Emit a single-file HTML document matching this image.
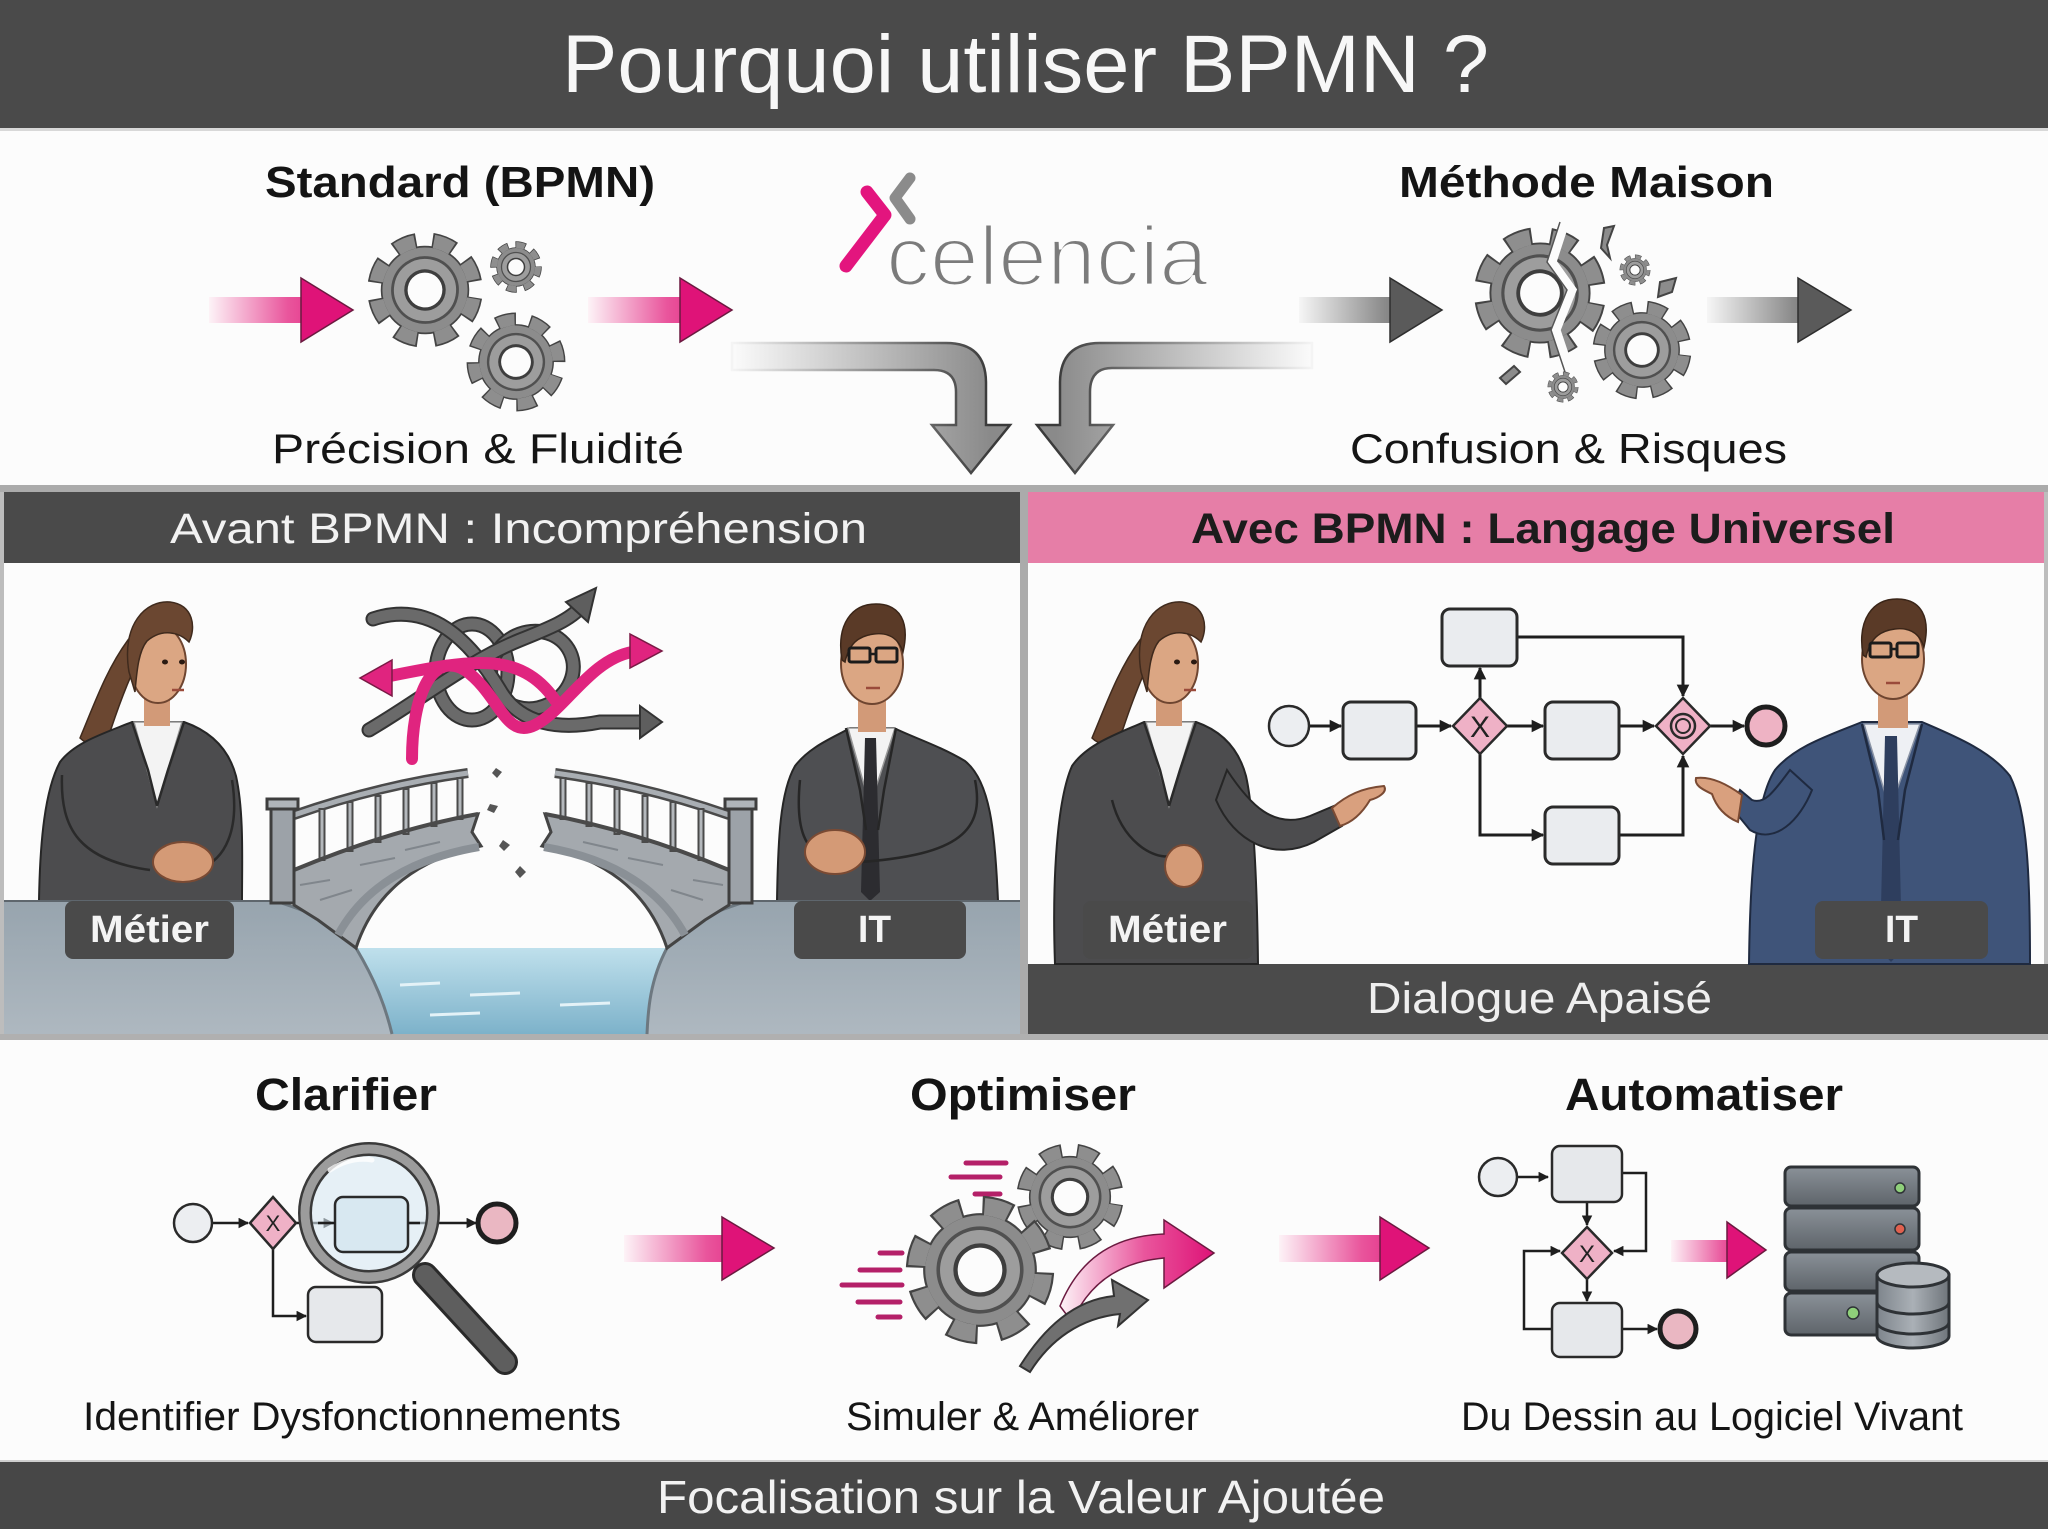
<!DOCTYPE html>
<html><head><meta charset="utf-8"><title>Pourquoi utiliser BPMN ?</title>
<style>html,body{margin:0;padding:0;background:#fcfcfc;}svg{display:block;}</style></head>
<body>
<svg width="2048" height="1529" viewBox="0 0 2048 1529" xmlns="http://www.w3.org/2000/svg" xmlns:xlink="http://www.w3.org/1999/xlink" font-family="'Liberation Sans', Arial, sans-serif">
<defs>
 <linearGradient id="pg" x1="0" y1="0" x2="1" y2="0"><stop offset="0" stop-color="#fdf3f7"/><stop offset="0.55" stop-color="#e9559c"/><stop offset="1" stop-color="#de1377"/></linearGradient>
 <linearGradient id="gg" x1="0" y1="0" x2="1" y2="0"><stop offset="0" stop-color="#f6f6f6"/><stop offset="0.6" stop-color="#8a8a8a"/><stop offset="1" stop-color="#5a5a5a"/></linearGradient>
 <linearGradient id="bentL" gradientUnits="userSpaceOnUse" x1="732" y1="0" x2="990" y2="0"><stop offset="0" stop-color="#fbfbfb"/><stop offset="1" stop-color="#8a8a8a"/></linearGradient>
 <linearGradient id="bentR" gradientUnits="userSpaceOnUse" x1="1312" y1="0" x2="1056" y2="0"><stop offset="0" stop-color="#fbfbfb"/><stop offset="1" stop-color="#8a8a8a"/></linearGradient>
 <linearGradient id="bentLs" gradientUnits="userSpaceOnUse" x1="732" y1="0" x2="990" y2="0"><stop offset="0" stop-color="#f4f4f4"/><stop offset="1" stop-color="#3a3a3a"/></linearGradient>
 <linearGradient id="bentRs" gradientUnits="userSpaceOnUse" x1="1312" y1="0" x2="1056" y2="0"><stop offset="0" stop-color="#f4f4f4"/><stop offset="1" stop-color="#3a3a3a"/></linearGradient>
 <linearGradient id="water" x1="0" y1="0" x2="0" y2="1"><stop offset="0" stop-color="#bfe0ec"/><stop offset="1" stop-color="#7db2ca"/></linearGradient>
 <linearGradient id="ground" x1="0" y1="0" x2="0" y2="1"><stop offset="0" stop-color="#97a4ae"/><stop offset="1" stop-color="#aeb8c0"/></linearGradient>
 <linearGradient id="srv" x1="0" y1="0" x2="0" y2="1"><stop offset="0" stop-color="#8a9198"/><stop offset="1" stop-color="#5e646a"/></linearGradient>
 <linearGradient id="db" x1="0" y1="0" x2="1" y2="0"><stop offset="0" stop-color="#7e858c"/><stop offset="0.5" stop-color="#aab0b6"/><stop offset="1" stop-color="#6f757b"/></linearGradient>
 <g id="gear">
  <circle r="39.5" fill="#444"/>
  <circle r="44" fill="none" stroke="#444" stroke-width="15" stroke-dasharray="20.3 14.26" stroke-dashoffset="1.5"/>
  <circle r="44" fill="none" stroke="#8e8e8e" stroke-width="12" stroke-dasharray="17.3 17.26"/>
  <circle r="38" fill="#8c8c8c"/>
  <circle r="29" fill="#9d9d9d" stroke="#505050" stroke-width="2.5"/>
  <circle r="17" fill="#fcfcfc" stroke="#3e3e3e" stroke-width="3"/>
 </g>
 <marker id="ah" viewBox="0 0 10 10" refX="9" refY="5" markerWidth="4.2" markerHeight="4.2" orient="auto" markerUnits="strokeWidth"><path d="M0,0 L10,5 L0,10 Z" fill="#1e1e1e"/></marker>
 <g id="bridgeHalf">
  <path d="M294,870 Q390,830 478,814 L472,832 L481,846 C420,858 375,890 356,948 L318,920 L294,905 Z" fill="#a4a9ae" stroke="#444" stroke-width="3"/>
  <path d="M338,935 C365,885 415,858 479,847" fill="none" stroke="#8a9096" stroke-width="8"/>
  <path d="M300,885 L330,880 M320,900 L352,890 M360,865 L395,858 M405,850 L440,842" stroke="#80868c" stroke-width="2"/>
  <path d="M294,815 Q380,785 468,773" fill="none" stroke="#4a4a4a" stroke-width="10"/>
  <path d="M294,815 Q380,785 468,773" fill="none" stroke="#a9aeb3" stroke-width="5"/>
  <g stroke="#4a4a4a" stroke-width="7">
   <line x1="322" y1="808" x2="322" y2="861"/><line x1="350" y1="801" x2="350" y2="852"/><line x1="378" y1="795" x2="378" y2="843"/><line x1="406" y1="788" x2="406" y2="835"/><line x1="434" y1="782" x2="434" y2="827"/><line x1="460" y1="777" x2="460" y2="820"/>
  </g>
  <g stroke="#b4b8bc" stroke-width="3">
   <line x1="322" y1="810" x2="322" y2="859"/><line x1="350" y1="803" x2="350" y2="850"/><line x1="378" y1="797" x2="378" y2="841"/><line x1="406" y1="790" x2="406" y2="833"/><line x1="434" y1="784" x2="434" y2="825"/><line x1="460" y1="779" x2="460" y2="818"/>
  </g>
  <path d="M294,870 Q390,830 478,814" fill="none" stroke="#4a4a4a" stroke-width="4"/>
  <rect x="271" y="806" width="23" height="97" fill="#9ca2a8" stroke="#3e3e3e" stroke-width="3"/>
  <rect x="267" y="799" width="31" height="10" fill="#b0b5ba" stroke="#3e3e3e" stroke-width="3"/>
 </g>
</defs>

<!-- backgrounds -->
<rect x="0" y="0" width="2048" height="1529" fill="#fcfcfc"/>
<rect x="0" y="0" width="2048" height="128" fill="#4a4a4a"/>
<rect x="0" y="128" width="2048" height="3" fill="#d8d8d8"/>
<rect x="0" y="485" width="2048" height="7" fill="#ababab"/>
<rect x="0" y="492" width="1020" height="71" fill="#4a4a4a"/>
<rect x="1028" y="492" width="1020" height="71" fill="#e67ea7"/>
<rect x="1020" y="485" width="8" height="555" fill="#ababab"/>
<rect x="0" y="492" width="4" height="548" fill="#bdbdbd"/>
<rect x="2044" y="492" width="4" height="548" fill="#bdbdbd"/>
<rect x="1028" y="964" width="1020" height="70" fill="#4b4b4b"/>
<rect x="0" y="1034" width="2048" height="6" fill="#b0b0b0"/>
<rect x="0" y="1460" width="2048" height="3" fill="#cfcfcf"/>
<rect x="0" y="1462" width="2048" height="67" fill="#474747"/>

<!-- title -->
<text x="562" y="92" font-size="82" fill="#f7f7f7" textLength="927" lengthAdjust="spacingAndGlyphs">Pourquoi utiliser BPMN ?</text>

<!-- top section headings -->
<text x="265" y="197" font-size="44" font-weight="bold" fill="#141414" textLength="390" lengthAdjust="spacingAndGlyphs">Standard (BPMN)</text>
<text x="1399" y="197" font-size="44" font-weight="bold" fill="#141414" textLength="375" lengthAdjust="spacingAndGlyphs">Méthode Maison</text>
<text x="272" y="463" font-size="42" fill="#151515" textLength="412" lengthAdjust="spacingAndGlyphs">Précision &amp; Fluidité</text>
<text x="1350" y="463" font-size="42" fill="#151515" textLength="437" lengthAdjust="spacingAndGlyphs">Confusion &amp; Risques</text>

<!-- pink arrows top -->
<path d="M209,297 L301,297 L301,278 L353,310 L301,342 L301,323 L209,323 Z" fill="url(#pg)"/>
<path d="M301,278 L353,310 L301,342 Z" fill="#df1378" stroke="#6b1a40" stroke-width="1.5"/>
<path d="M588,297 L680,297 L680,278 L732,310 L680,342 L680,323 L588,323 Z" fill="url(#pg)"/>
<path d="M680,278 L732,310 L680,342 Z" fill="#df1378" stroke="#6b1a40" stroke-width="1.5"/>

<!-- gray arrows top right -->
<path d="M1299,297 L1390,297 L1390,278 L1442,310 L1390,342 L1390,323 L1299,323 Z" fill="url(#gg)"/>
<path d="M1390,278 L1442,310 L1390,342 Z" fill="#5a5a5a" stroke="#2e2e2e" stroke-width="1.5"/>
<path d="M1707,297 L1798,297 L1798,278 L1851,310 L1798,342 L1798,323 L1707,323 Z" fill="url(#gg)"/>
<path d="M1798,278 L1851,310 L1798,342 Z" fill="#5a5a5a" stroke="#2e2e2e" stroke-width="1.5"/>

<!-- gears standard -->
<use xlink:href="#gear" href="#gear" transform="translate(425,290) scale(1.12) rotate(10)"/>
<use xlink:href="#gear" href="#gear" transform="translate(516,267) scale(0.5)"/>
<use xlink:href="#gear" href="#gear" transform="translate(516,362) scale(0.96) rotate(20)"/>

<!-- broken gears -->
<use xlink:href="#gear" href="#gear" transform="translate(1540,293) scale(1.28) rotate(12)"/>
<path d="M1565,222 L1552,262 L1572,290 L1556,330 L1570,372" fill="none" stroke="#fcfcfc" stroke-width="9"/>
<path d="M1565,222 L1552,262 L1572,290 L1556,330 L1570,372" fill="none" stroke="#555" stroke-width="1.5" transform="translate(-5,0)"/>
<use xlink:href="#gear" href="#gear" transform="translate(1642,350) scale(0.96) rotate(8)"/>
<use xlink:href="#gear" href="#gear" transform="translate(1635,270) scale(0.3)"/>
<use xlink:href="#gear" href="#gear" transform="translate(1563,387) scale(0.3)"/>
<path d="M1604,228 L1614,226 L1607,245 L1610,258 L1601,248 Z" fill="#8c8c8c" stroke="#444" stroke-width="2"/>
<path d="M1660,282 L1676,278 L1672,292 L1658,297 Z" fill="#8c8c8c" stroke="#444" stroke-width="2"/>
<path d="M1500,378 L1514,366 L1520,372 L1506,384 Z" fill="#8c8c8c" stroke="#444" stroke-width="2"/>

<!-- bent arrows -->
<path d="M732,343 L946,343 Q986,343 986,383 L986,425 L1010,425 L971,473 L932,425 L956,425 L956,392 Q956,370 934,370 L732,370 Z" fill="url(#bentL)" stroke="url(#bentLs)" stroke-width="2.5"/>
<path d="M1312,343 L1100,343 Q1060,343 1060,383 L1060,425 L1037,425 L1075,473 L1113,425 L1090,425 L1090,392 Q1090,368 1112,368 L1312,368 Z" fill="url(#bentR)" stroke="url(#bentRs)" stroke-width="2.5"/>

<!-- logo -->
<polyline points="867,192 885,215 846,266" fill="none" stroke="#e3157e" stroke-width="13" stroke-linecap="round" stroke-linejoin="round"/>
<polyline points="910,178 895,198 910,219" fill="none" stroke="#8b8b8b" stroke-width="11" stroke-linecap="round" stroke-linejoin="round"/>
<text x="886" y="285" font-size="84" fill="#7b7b7b" stroke="#fcfcfc" stroke-width="3" textLength="322" lengthAdjust="spacingAndGlyphs">celencia</text>

<!-- middle headers -->
<text x="170" y="543" font-size="43" fill="#f2f2f2" textLength="697" lengthAdjust="spacingAndGlyphs">Avant BPMN : Incompréhension</text>
<text x="1191" y="543" font-size="43" font-weight="bold" fill="#1c1c1c" textLength="704" lengthAdjust="spacingAndGlyphs">Avec BPMN : Langage Universel</text>

<!-- LEFT PANEL -->
<!-- woman left -->
<g>
 <path d="M128,640 C106,670 94,705 80,738 C90,748 104,744 111,729 C119,705 127,684 135,667 Z" fill="#6b4731" stroke="#3f2a1d" stroke-width="1.5"/>
 <path d="M39,901 C40,840 45,790 60,762 C75,742 105,733 132,722 L184,722 C207,730 228,746 236,776 C244,812 242,860 242,901 Z" fill="#4c4c4e" stroke="#262626" stroke-width="2"/>
 <path d="M134,722 L157,806 L182,722 Z" fill="#f3f3f3" stroke="#999" stroke-width="1.5"/>
 <path d="M132,722 L148,770 L157,806 M184,722 L168,770 L157,806" fill="none" stroke="#2a2a2a" stroke-width="2.5"/>
 <path d="M62,775 C60,830 80,860 150,870 M232,780 C240,830 225,860 200,868" fill="none" stroke="#2a2a2a" stroke-width="2.5"/>
 <rect x="144" y="694" width="26" height="32" fill="#d29a78"/>
 <ellipse cx="158" cy="664" rx="28" ry="39" fill="#dba683" stroke="#6e4530" stroke-width="2"/>
 <path d="M129,672 C121,624 146,600 170,602 C194,605 196,628 189,642 C179,632 162,628 147,641 C139,651 137,668 135,692 Z" fill="#6b4731" stroke="#3f2a1d" stroke-width="1.5"/>
 <ellipse cx="165" cy="662" rx="3" ry="2.5" fill="#2a1a12"/><ellipse cx="182" cy="662" rx="3" ry="2.5" fill="#2a1a12"/>
 <path d="M172,690 L184,690" stroke="#9a4a3a" stroke-width="2.5"/>
 <ellipse cx="183" cy="862" rx="30" ry="20" fill="#d49a76" stroke="#7a4a33" stroke-width="2"/>
</g>
<!-- man left -->
<g>
 <path d="M777,901 C778,840 780,792 795,766 C810,746 835,737 850,728 L894,728 C912,737 940,746 965,761 C990,781 995,830 998,901 Z" fill="#4e4f52" stroke="#262626" stroke-width="2"/>
 <path d="M848,728 L870,806 L895,728 Z" fill="#f3f3f3" stroke="#999" stroke-width="1.5"/>
 <path d="M865,738 L876,738 L880,892 L870,901 L861,892 Z" fill="#2c2c30"/>
 <path d="M846,728 L860,790 L866,830 M896,728 L884,790 L878,830" fill="none" stroke="#262626" stroke-width="2.5"/>
 <path d="M800,780 C795,830 805,852 830,860 M975,780 C985,830 960,855 860,862" fill="none" stroke="#262626" stroke-width="2.5"/>
 <rect x="858" y="698" width="28" height="34" fill="#d29a78"/>
 <ellipse cx="872" cy="664" rx="31" ry="40" fill="#dba683" stroke="#6e4530" stroke-width="2"/>
 <path d="M842,660 C836,624 852,604 876,604 C900,604 910,622 903,652 C899,640 890,632 874,634 C858,636 849,644 845,662 Z" fill="#5a3a27" stroke="#3a2518" stroke-width="1.5"/>
 <rect x="849" y="648" width="21" height="14" rx="2" fill="none" stroke="#1b1b1b" stroke-width="3"/>
 <rect x="876" y="648" width="21" height="14" rx="2" fill="none" stroke="#1b1b1b" stroke-width="3"/>
 <line x1="870" y1="654" x2="876" y2="654" stroke="#1b1b1b" stroke-width="2.5"/>
 <path d="M866,688 L880,688" stroke="#9a4a3a" stroke-width="2.5"/>
 <ellipse cx="835" cy="852" rx="30" ry="22" fill="#d49a76" stroke="#7a4a33" stroke-width="2"/>
</g>

<!-- knot of arrows -->
<g fill="none" stroke-linecap="round">
 <ellipse cx="472" cy="672" rx="36" ry="48" stroke="#333" stroke-width="15"/>
 <ellipse cx="472" cy="672" rx="36" ry="48" stroke="#6a6a6a" stroke-width="11"/>
 <ellipse cx="532" cy="670" rx="42" ry="38" stroke="#333" stroke-width="15" transform="rotate(-25 532 670)"/>
 <ellipse cx="532" cy="670" rx="42" ry="38" stroke="#6a6a6a" stroke-width="11" transform="rotate(-25 532 670)"/>
 <path d="M373,619 C430,600 470,640 500,690 C520,725 560,730 600,722 L642,722" stroke="#333" stroke-width="15"/>
 <path d="M373,619 C430,600 470,640 500,690 C520,725 560,730 600,722 L642,722" stroke="#6a6a6a" stroke-width="11"/>
 <path d="M369,730 C420,700 470,660 520,640 C550,628 570,620 582,606" stroke="#333" stroke-width="15"/>
 <path d="M369,730 C420,700 470,660 520,640 C550,628 570,620 582,606" stroke="#6a6a6a" stroke-width="11"/>
 <path d="M555,700 C520,650 470,660 390,676" stroke="#e0247f" stroke-width="12"/>
 <path d="M412,759 C412,700 430,650 465,670 C500,695 505,740 535,725 C565,710 590,660 632,652" stroke="#e0247f" stroke-width="12"/>
</g>
<polygon points="640,706 662,722 640,738" fill="#5e5e5e" stroke="#333" stroke-width="2"/>
<polygon points="596,588 566,602 588,622" fill="#5e5e5e" stroke="#333" stroke-width="2"/>
<polygon points="392,660 360,678 392,696" fill="#e0247f" stroke="#7a1a45" stroke-width="1.5"/>
<polygon points="630,634 662,651 630,668" fill="#e0247f" stroke="#7a1a45" stroke-width="1.5"/>

<!-- ground & water -->
<path d="M356,948 L667,948 C650,980 648,1010 647,1034 L392,1034 C385,1005 375,980 356,948 Z" fill="url(#water)"/>
<path d="M400,985 L440,983 M470,995 L520,993 M560,1005 L610,1003 M430,1015 L480,1013" stroke="#e4f2f7" stroke-width="3"/>
<path d="M4,901 L275,901 C320,915 350,930 356,948 C375,980 385,1005 392,1034 L4,1034 Z" fill="url(#ground)"/>
<path d="M1020,901 L748,901 C703,915 673,930 667,948 C650,980 648,1010 647,1034 L1020,1034 Z" fill="url(#ground)"/>
<path d="M275,901 C320,915 350,930 356,948 C375,980 385,1005 392,1034 M748,901 C703,915 673,930 667,948 C650,980 648,1010 647,1034" fill="none" stroke="#6d7880" stroke-width="3"/>
<line x1="4" y1="901" x2="275" y2="901" stroke="#5e666d" stroke-width="2"/>
<line x1="748" y1="901" x2="1020" y2="901" stroke="#5e666d" stroke-width="2"/>
<!-- bridge -->
<use xlink:href="#bridgeHalf" href="#bridgeHalf"/>
<use xlink:href="#bridgeHalf" href="#bridgeHalf" transform="translate(1023,0) scale(-1,1)"/>
<polygon points="496,768 502,772 497,778 492,773" fill="#555"/>
<polygon points="490,804 498,806 494,813 487,810" fill="#555"/>
<polygon points="503,840 510,845 504,851 499,846" fill="#555"/>
<polygon points="520,866 526,872 520,878 515,872" fill="#555"/>

<!-- labels left -->
<rect x="65" y="901" width="169" height="58" rx="8" fill="#4a4a4a"/>
<text x="90" y="942" font-size="38" font-weight="bold" fill="#f4f4f4" textLength="119" lengthAdjust="spacingAndGlyphs">Métier</text>
<rect x="794" y="901" width="172" height="58" rx="8" fill="#4a4a4a"/>
<text x="858" y="942" font-size="38" font-weight="bold" fill="#f4f4f4" textLength="33" lengthAdjust="spacingAndGlyphs">IT</text>

<!-- RIGHT PANEL -->
<!-- woman right -->
<g transform="translate(1012,0)">
 <path d="M128,640 C106,670 94,705 80,738 C90,748 104,744 111,729 C119,705 127,684 135,667 Z" fill="#6b4731" stroke="#3f2a1d" stroke-width="1.5"/>
 <path d="M43,964 C40,880 45,800 60,766 C75,744 105,734 132,722 L184,722 C207,730 226,746 234,776 C242,812 245,880 246,964 Z" fill="#4c4c4e" stroke="#262626" stroke-width="2"/>
 <path d="M134,722 L157,806 L182,722 Z" fill="#f3f3f3" stroke="#999" stroke-width="1.5"/>
 <path d="M132,722 L148,770 L157,806 M184,722 L168,770 L157,806" fill="none" stroke="#2a2a2a" stroke-width="2.5"/>
 <path d="M215,770 C238,805 262,830 298,816 L322,806 L330,826 L302,842 C262,862 222,842 204,800 Z" fill="#4c4c4e" stroke="#262626" stroke-width="2"/>
 <path d="M320,808 C335,795 350,788 372,786 C376,792 366,798 358,800 C352,810 342,822 328,826 Z" fill="#d9a07e" stroke="#7a4a33" stroke-width="2"/>
 <path d="M100,800 C110,840 140,860 160,856" fill="none" stroke="#262626" stroke-width="2.5"/>
 <rect x="144" y="694" width="26" height="32" fill="#d29a78"/>
 <ellipse cx="158" cy="664" rx="28" ry="39" fill="#dba683" stroke="#6e4530" stroke-width="2"/>
 <path d="M129,672 C121,624 146,600 170,602 C194,605 196,628 189,642 C179,632 162,628 147,641 C139,651 137,668 135,692 Z" fill="#6b4731" stroke="#3f2a1d" stroke-width="1.5"/>
 <ellipse cx="165" cy="662" rx="3" ry="2.5" fill="#2a1a12"/><ellipse cx="182" cy="662" rx="3" ry="2.5" fill="#2a1a12"/>
 <path d="M172,690 L184,690" stroke="#9a4a3a" stroke-width="2.5"/>
 <ellipse cx="172" cy="866" rx="19" ry="21" fill="#d49a76" stroke="#7a4a33" stroke-width="2"/>
</g>
<!-- man right -->
<g>
 <path d="M1749,964 C1750,880 1755,800 1775,770 C1795,746 1830,735 1862,722 L1922,722 C1952,735 1990,750 2010,776 C2028,812 2030,880 2030,964 Z" fill="#3f5479" stroke="#1f2a40" stroke-width="2"/>
 <path d="M1864,724 L1890,810 L1920,724 Z" fill="#eef0f4" stroke="#8a93a5" stroke-width="1.5"/>
 <path d="M1885,736 L1897,736 L1902,950 L1891,962 L1880,950 Z" fill="#2e3e5e"/>
 <path d="M1862,724 L1878,790 L1884,840 M1922,724 L1905,790 L1898,840" fill="none" stroke="#1f2a40" stroke-width="2.5"/>
 <path d="M1790,770 C1775,790 1765,805 1752,800 L1740,790 L1732,808 L1750,830 C1775,845 1800,820 1812,790 Z" fill="#3f5479" stroke="#1f2a40" stroke-width="2"/>
 <path d="M1742,795 C1728,785 1712,776 1696,778 C1694,786 1704,790 1712,794 C1716,806 1724,816 1738,822 Z" fill="#d9a07e" stroke="#7a4a33" stroke-width="2"/>
 <rect x="1878" y="692" width="30" height="36" fill="#d29a78"/>
 <ellipse cx="1893" cy="659" rx="31" ry="40" fill="#dba683" stroke="#6e4530" stroke-width="2"/>
 <path d="M1863,655 C1857,619 1873,599 1897,599 C1921,599 1931,617 1924,647 C1920,635 1911,627 1895,629 C1879,631 1870,639 1866,657 Z" fill="#5a3a27" stroke="#3a2518" stroke-width="1.5"/>
 <rect x="1870" y="643" width="21" height="14" rx="2" fill="none" stroke="#1b1b1b" stroke-width="3"/>
 <rect x="1897" y="643" width="21" height="14" rx="2" fill="none" stroke="#1b1b1b" stroke-width="3"/>
 <line x1="1891" y1="649" x2="1897" y2="649" stroke="#1b1b1b" stroke-width="2.5"/>
 <path d="M1886,683 L1900,683" stroke="#9a4a3a" stroke-width="2.5"/>
</g>

<!-- BPMN diagram right panel -->
<g stroke="#1e1e1e" stroke-width="3" fill="none">
 <path d="M1309,726 L1341,726" marker-end="url(#ah)"/>
 <path d="M1416,726 L1451,726" marker-end="url(#ah)"/>
 <path d="M1507,726 L1543,726" marker-end="url(#ah)"/>
 <path d="M1619,726 L1654,726" marker-end="url(#ah)"/>
 <path d="M1710,726 L1744,726" marker-end="url(#ah)"/>
 <path d="M1480,698 L1480,668" marker-end="url(#ah)"/>
 <path d="M1517,637 L1683,637 L1683,696" marker-end="url(#ah)"/>
 <path d="M1480,754 L1480,835 L1543,835" marker-end="url(#ah)"/>
 <path d="M1619,835 L1683,835 L1683,756" marker-end="url(#ah)"/>
</g>
<circle cx="1289" cy="726" r="20" fill="#eceef1" stroke="#2a2a2a" stroke-width="2.5"/>
<rect x="1343" y="702" width="73" height="57" rx="8" fill="#eaecef" stroke="#2a2a2a" stroke-width="3"/>
<rect x="1442" y="609" width="75" height="57" rx="8" fill="#eaecef" stroke="#2a2a2a" stroke-width="3"/>
<rect x="1545" y="702" width="74" height="57" rx="8" fill="#eaecef" stroke="#2a2a2a" stroke-width="3"/>
<rect x="1545" y="807" width="74" height="57" rx="8" fill="#eaecef" stroke="#2a2a2a" stroke-width="3"/>
<polygon points="1480,698 1507,726 1480,754 1453,726" fill="#efb1c6" stroke="#2a2a2a" stroke-width="2.5"/>
<text x="1480" y="737" font-size="30" fill="#222" text-anchor="middle">X</text>
<polygon points="1683,698 1710,726 1683,754 1656,726" fill="#efb1c6" stroke="#2a2a2a" stroke-width="2.5"/>
<circle cx="1683" cy="726" r="12" fill="none" stroke="#2a2a2a" stroke-width="2.5"/>
<circle cx="1683" cy="726" r="7" fill="none" stroke="#2a2a2a" stroke-width="2"/>
<circle cx="1766" cy="726" r="19" fill="#eeb3c4" stroke="#1e1e1e" stroke-width="5"/>

<!-- labels right -->
<rect x="1083" y="901" width="170" height="58" rx="8" fill="#4a4a4a"/>
<text x="1108" y="942" font-size="38" font-weight="bold" fill="#f4f4f4" textLength="119" lengthAdjust="spacingAndGlyphs">Métier</text>
<rect x="1815" y="901" width="173" height="58" rx="8" fill="#4a4a4a"/>
<text x="1885" y="942" font-size="38" font-weight="bold" fill="#f4f4f4" textLength="33" lengthAdjust="spacingAndGlyphs">IT</text>
<text x="1367" y="1013" font-size="44" fill="#efefef" textLength="345" lengthAdjust="spacingAndGlyphs">Dialogue Apaisé</text>

<!-- BOTTOM SECTION -->
<text x="255" y="1110" font-size="45" font-weight="bold" fill="#141414" textLength="182" lengthAdjust="spacingAndGlyphs">Clarifier</text>
<text x="910" y="1110" font-size="45" font-weight="bold" fill="#141414" textLength="226" lengthAdjust="spacingAndGlyphs">Optimiser</text>
<text x="1565" y="1110" font-size="45" font-weight="bold" fill="#141414" textLength="278" lengthAdjust="spacingAndGlyphs">Automatiser</text>
<text x="83" y="1430" font-size="40" fill="#151515" textLength="538" lengthAdjust="spacingAndGlyphs">Identifier Dysfonctionnements</text>
<text x="846" y="1430" font-size="40" fill="#151515" textLength="353" lengthAdjust="spacingAndGlyphs">Simuler &amp; Améliorer</text>
<text x="1461" y="1430" font-size="40" fill="#151515" textLength="502" lengthAdjust="spacingAndGlyphs">Du Dessin au Logiciel Vivant</text>

<!-- Clarifier icon -->
<g stroke="#1e1e1e" stroke-width="2.5" fill="none">
 <path d="M212,1223 L248,1223" marker-end="url(#ah)"/>
 <path d="M296,1223 L333,1223" marker-end="url(#ah)"/>
 <path d="M408,1223 L476,1223" marker-end="url(#ah)"/>
 <path d="M273,1249 L273,1316 L306,1316" marker-end="url(#ah)"/>
</g>
<circle cx="193" cy="1223" r="19" fill="#eceef1" stroke="#2a2a2a" stroke-width="2.5"/>
<polygon points="273,1197 296,1223 273,1249 250,1223" fill="#efb1c6" stroke="#2a2a2a" stroke-width="2.5"/>
<text x="273" y="1231" font-size="22" fill="#222" text-anchor="middle">X</text>
<circle cx="497" cy="1223" r="19" fill="#eab7c2" stroke="#1e1e1e" stroke-width="5"/>
<rect x="308" y="1287" width="74" height="55" rx="8" fill="#e6e8eb" stroke="#2a2a2a" stroke-width="2.5"/>
<line x1="425" y1="1275" x2="505" y2="1362" stroke="#2a2a2a" stroke-width="26" stroke-linecap="round"/>
<line x1="425" y1="1275" x2="505" y2="1362" stroke="#5e5e5e" stroke-width="20" stroke-linecap="round"/>
<circle cx="369" cy="1213" r="64" fill="#d7e8f1" fill-opacity="0.6" stroke="#3a3a3a" stroke-width="14"/>
<circle cx="369" cy="1213" r="64" fill="none" stroke="#9c9c9c" stroke-width="9"/>
<rect x="335" y="1197" width="73" height="55" rx="8" fill="#d8e8f1" stroke="#2a2a2a" stroke-width="2.5"/>
<path d="M318,1223 L335,1223 M408,1223 L420,1223" stroke="#1e1e1e" stroke-width="2.5"/>
<path d="M330,1170 C345,1160 360,1158 372,1160" fill="none" stroke="#ffffff" stroke-width="5" stroke-linecap="round" opacity="0.8"/>

<!-- arrows bottom -->
<path d="M624,1235 L722,1235 L722,1217 L774,1248 L722,1280 L722,1262 L624,1262 Z" fill="url(#pg)"/>
<path d="M722,1217 L774,1248 L722,1280 Z" fill="#df1378" stroke="#6b1a40" stroke-width="1.5"/>
<path d="M1279,1235 L1380,1235 L1380,1217 L1429,1248 L1380,1280 L1380,1262 L1279,1262 Z" fill="url(#pg)"/>
<path d="M1380,1217 L1429,1248 L1380,1280 Z" fill="#df1378" stroke="#6b1a40" stroke-width="1.5"/>
<path d="M1671,1240 L1727,1240 L1727,1222 L1766,1250 L1727,1278 L1727,1262 L1671,1262 Z" fill="url(#pg)"/>
<path d="M1727,1222 L1766,1250 L1727,1278 Z" fill="#df1378" stroke="#6b1a40" stroke-width="1.5"/>

<!-- Optimiser icon -->
<g stroke="#b42068" stroke-width="5" stroke-linecap="round">
 <line x1="966" y1="1163" x2="1006" y2="1163"/><line x1="951" y1="1177" x2="1000" y2="1177"/><line x1="975" y1="1194" x2="1000" y2="1194"/>
 <line x1="880" y1="1253" x2="902" y2="1253"/><line x1="860" y1="1270" x2="900" y2="1270"/><line x1="842" y1="1285" x2="902" y2="1285"/><line x1="858" y1="1302" x2="900" y2="1302"/><line x1="878" y1="1317" x2="900" y2="1317"/>
</g>
<use xlink:href="#gear" href="#gear" transform="translate(1070,1197) scale(1.04) rotate(10)"/>
<use xlink:href="#gear" href="#gear" transform="translate(980,1270) scale(1.44) rotate(4)"/>
<path d="M1072,1322 C1088,1285 1118,1262 1164,1258 L1164,1288 L1214,1253 L1164,1220 L1164,1234 C1110,1236 1078,1262 1060,1306 Z" fill="url(#pg)" stroke="#6b1a40" stroke-width="1.5"/>
<path d="M1030,1372 C1050,1340 1080,1318 1120,1314 L1118,1326 L1148,1300 L1112,1280 L1114,1296 C1074,1300 1044,1328 1020,1366 Z" fill="#707070" stroke="#333" stroke-width="2"/>

<!-- Automatiser icon -->
<g stroke="#1e1e1e" stroke-width="2.5" fill="none">
 <path d="M1517,1177 L1548,1177" marker-end="url(#ah)"/>
 <path d="M1587,1202 L1587,1225" marker-end="url(#ah)"/>
 <path d="M1587,1279 L1587,1301" marker-end="url(#ah)"/>
 <path d="M1622,1329 L1657,1329" marker-end="url(#ah)"/>
 <path d="M1622,1173 L1646,1173 L1646,1251 L1614,1251" marker-end="url(#ah)"/>
 <path d="M1552,1329 L1524,1329 L1524,1251 L1560,1251" marker-end="url(#ah)"/>
</g>
<circle cx="1498" cy="1177" r="19" fill="#eceef1" stroke="#2a2a2a" stroke-width="2.5"/>
<rect x="1552" y="1146" width="70" height="56" rx="8" fill="#e6e8eb" stroke="#2a2a2a" stroke-width="2.5"/>
<rect x="1552" y="1303" width="70" height="54" rx="8" fill="#e6e8eb" stroke="#2a2a2a" stroke-width="2.5"/>
<polygon points="1587,1227 1612,1253 1587,1279 1562,1253" fill="#efb1c6" stroke="#2a2a2a" stroke-width="2.5"/>
<text x="1587" y="1262" font-size="24" fill="#222" text-anchor="middle">X</text>
<circle cx="1678" cy="1329" r="18" fill="#eab7c2" stroke="#1e1e1e" stroke-width="5"/>

<!-- server -->
<rect x="1785" y="1167" width="134" height="39" rx="6" fill="url(#srv)" stroke="#2e3236" stroke-width="3"/>
<rect x="1785" y="1208" width="134" height="42" rx="6" fill="url(#srv)" stroke="#2e3236" stroke-width="3"/>
<rect x="1785" y="1252" width="134" height="39" rx="6" fill="url(#srv)" stroke="#2e3236" stroke-width="3"/>
<rect x="1785" y="1293" width="134" height="42" rx="6" fill="url(#srv)" stroke="#2e3236" stroke-width="3"/>
<circle cx="1900" cy="1188" r="5" fill="#8fd07a" stroke="#2e3236" stroke-width="1.5"/>
<circle cx="1900" cy="1229" r="5" fill="#e0604e" stroke="#2e3236" stroke-width="1.5"/>
<circle cx="1853" cy="1313" r="6" fill="#8fd07a" stroke="#2e3236" stroke-width="1.5"/>
<!-- database -->
<path d="M1877,1275 L1877,1336 A36,12 0 0 0 1949,1336 L1949,1275 Z" fill="url(#db)" stroke="#2e3236" stroke-width="3"/>
<ellipse cx="1913" cy="1275" rx="36" ry="12" fill="#b5babf" stroke="#2e3236" stroke-width="3"/>
<path d="M1877,1302 A36,12 0 0 0 1949,1302 M1877,1322 A36,12 0 0 0 1949,1322" fill="none" stroke="#2e3236" stroke-width="3"/>

<!-- footer -->
<text x="657" y="1513" font-size="46" fill="#f2f2f2" textLength="728" lengthAdjust="spacingAndGlyphs">Focalisation sur la Valeur Ajoutée</text>
</svg>
</body></html>
